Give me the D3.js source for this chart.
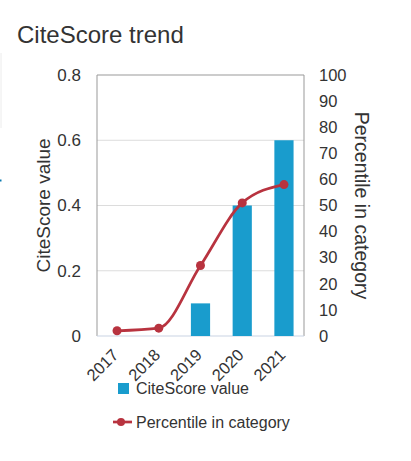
<!DOCTYPE html>
<html>
  <head>
    <script src="https://d3js.org/d3.v7.min.js"></script>
    <style>
      body { margin: 0; background: #fff; font-family: "Liberation Sans", Arial, sans-serif; }
      text { fill: #333; }
    </style>
  </head>
  <body>
    <div id="chart"></div>

    <script>
      const years = ["2017", "2018", "2019", "2020", "2021"];
      const citeScore = [0, 0, 0.1, 0.4, 0.6];
      const percentile = [2, 3, 27, 51, 58];
      const leftTicks = [0, 0.2, 0.4, 0.6, 0.8];
      const rightTicks = [0, 10, 20, 30, 40, 50, 60, 70, 80, 90, 100];

      const width = 411;
      const height = 461;
      const margin = { top: 75, right: 107, bottom: 125, left: 97 };
      const innerW = width - margin.left - margin.right;
      const innerH = height - margin.top - margin.bottom;

      const svg = d3.select("#chart")
        .append("svg")
        .attr("width", width)
        .attr("height", height);

      // page edge leftovers
      svg.append("line")
        .attr("x1", 1).attr("x2", 1).attr("y1", 53).attr("y2", 128)
        .attr("stroke", "#ececec");
      svg.append("rect")
        .attr("x", 0).attr("y", 179.5).attr("width", 1.5).attr("height", 2)
        .attr("fill", "#0a7ab0");

      svg.append("text")
        .attr("x", 17)
        .attr("y", 42.5)
        .style("font-size", "24px")
        .text("CiteScore trend");

      const chart = svg.append("g")
        .attr("transform", `translate(${margin.left}, ${margin.top})`);

      const xScale = d3.scaleBand()
        .domain(years)
        .range([0, innerW])
        .paddingInner(0.54)
        .paddingOuter(0.25);
      const yLeft = d3.scaleLinear().domain([0, 0.8]).range([innerH, 0]);
      const yRight = d3.scaleLinear().domain([0, 100]).range([innerH, 0]);

      // gridlines
      chart.selectAll(".grid")
        .data(leftTicks.filter(d => d > 0 && d < 0.8))
        .enter()
        .append("line")
        .attr("x1", 0)
        .attr("x2", innerW)
        .attr("y1", d => yLeft(d))
        .attr("y2", d => yLeft(d))
        .attr("stroke", "#dcdcdc");

      // frame
      chart.append("path")
        .attr("d", `M0,${innerH}V0H${innerW}V${innerH}`)
        .attr("fill", "none")
        .attr("stroke", "#999")
        .attr("stroke-width", 1);
      chart.append("line")
        .attr("x1", 0).attr("x2", innerW)
        .attr("y1", innerH).attr("y2", innerH)
        .attr("stroke", "#c9d3e3");

      chart.selectAll(".bar")
        .data(years.map((y, i) => ({ year: y, value: citeScore[i] })))
        .enter()
        .append("rect")
        .attr("class", "bar")
        .attr("x", d => xScale(d.year))
        .attr("y", d => yLeft(d.value))
        .attr("width", xScale.bandwidth())
        .attr("height", d => innerH - yLeft(d.value))
        .attr("fill", "#199ccd");

      const pts = years.map((y, i) => ({ year: y, value: percentile[i] }));
      const cx = d => xScale(d.year) + xScale.bandwidth() / 2;

      chart.append("path")
        .datum(pts)
        .attr("fill", "none")
        .attr("stroke", "#b8333f")
        .attr("stroke-width", 2.7)
        .attr("d", d3.line().x(cx).y(d => yRight(d.value)).curve(d3.curveMonotoneX));

      chart.selectAll(".dot")
        .data(pts)
        .enter()
        .append("circle")
        .attr("cx", cx)
        .attr("cy", d => yRight(d.value))
        .attr("r", 4.5)
        .attr("fill", "#b8333f");

      // axes
      const leftAxis = chart.append("g")
        .call(d3.axisLeft(yLeft).tickValues(leftTicks).tickFormat(d => d === 0 ? "0" : d3.format(".1f")(d)).tickSize(0).tickPadding(16));
      leftAxis.select(".domain").remove();
      leftAxis.selectAll("text").style("font-size", "17px").attr("fill", "#333");

      const rightAxis = chart.append("g")
        .attr("transform", `translate(${innerW}, 0)`)
        .call(d3.axisRight(yRight).tickValues(rightTicks).tickSize(0).tickPadding(15));
      rightAxis.select(".domain").remove();
      rightAxis.selectAll("text").style("font-size", "16.5px").attr("fill", "#333");

      const xAxis = chart.append("g")
        .attr("transform", `translate(0, ${innerH})`)
        .call(d3.axisBottom(xScale).tickSize(0));
      xAxis.select(".domain").remove();
      xAxis.selectAll("text")
        .style("font-size", "16.5px")
        .attr("fill", "#333")
        .style("text-anchor", "end")
        .attr("x", 0)
        .attr("y", 0)
        .attr("dy", 0)
        .attr("transform", "translate(2.5, 20) rotate(-45)");

      svg.append("text")
        .attr("transform", "rotate(-90)")
        .attr("x", -(margin.top + innerH / 2))
        .attr("y", 50)
        .style("text-anchor", "middle")
        .style("font-size", "19px")
        .text("CiteScore value");

      svg.append("text")
        .attr("transform", "rotate(90)")
        .attr("x", margin.top + innerH / 2)
        .attr("y", -354.5)
        .style("text-anchor", "middle")
        .style("font-size", "19.5px")
        .text("Percentile in category");

      // legend
      const legend = svg.append("g");
      legend.append("rect")
        .attr("x", 118).attr("y", 383)
        .attr("width", 11).attr("height", 11)
        .attr("fill", "#199ccd");
      legend.append("text")
        .attr("x", 136).attr("y", 394)
        .style("font-size", "16px")
        .text("CiteScore value");
      legend.append("line")
        .attr("x1", 113).attr("x2", 132)
        .attr("y1", 422).attr("y2", 422)
        .attr("stroke", "#b8333f")
        .attr("stroke-width", 2.7);
      legend.append("circle")
        .attr("cx", 121).attr("cy", 422).attr("r", 4)
        .attr("fill", "#b8333f");
      legend.append("text")
        .attr("x", 136).attr("y", 427.5)
        .style("font-size", "16px")
        .text("Percentile in category");
    </script>
  </body>
</html>
